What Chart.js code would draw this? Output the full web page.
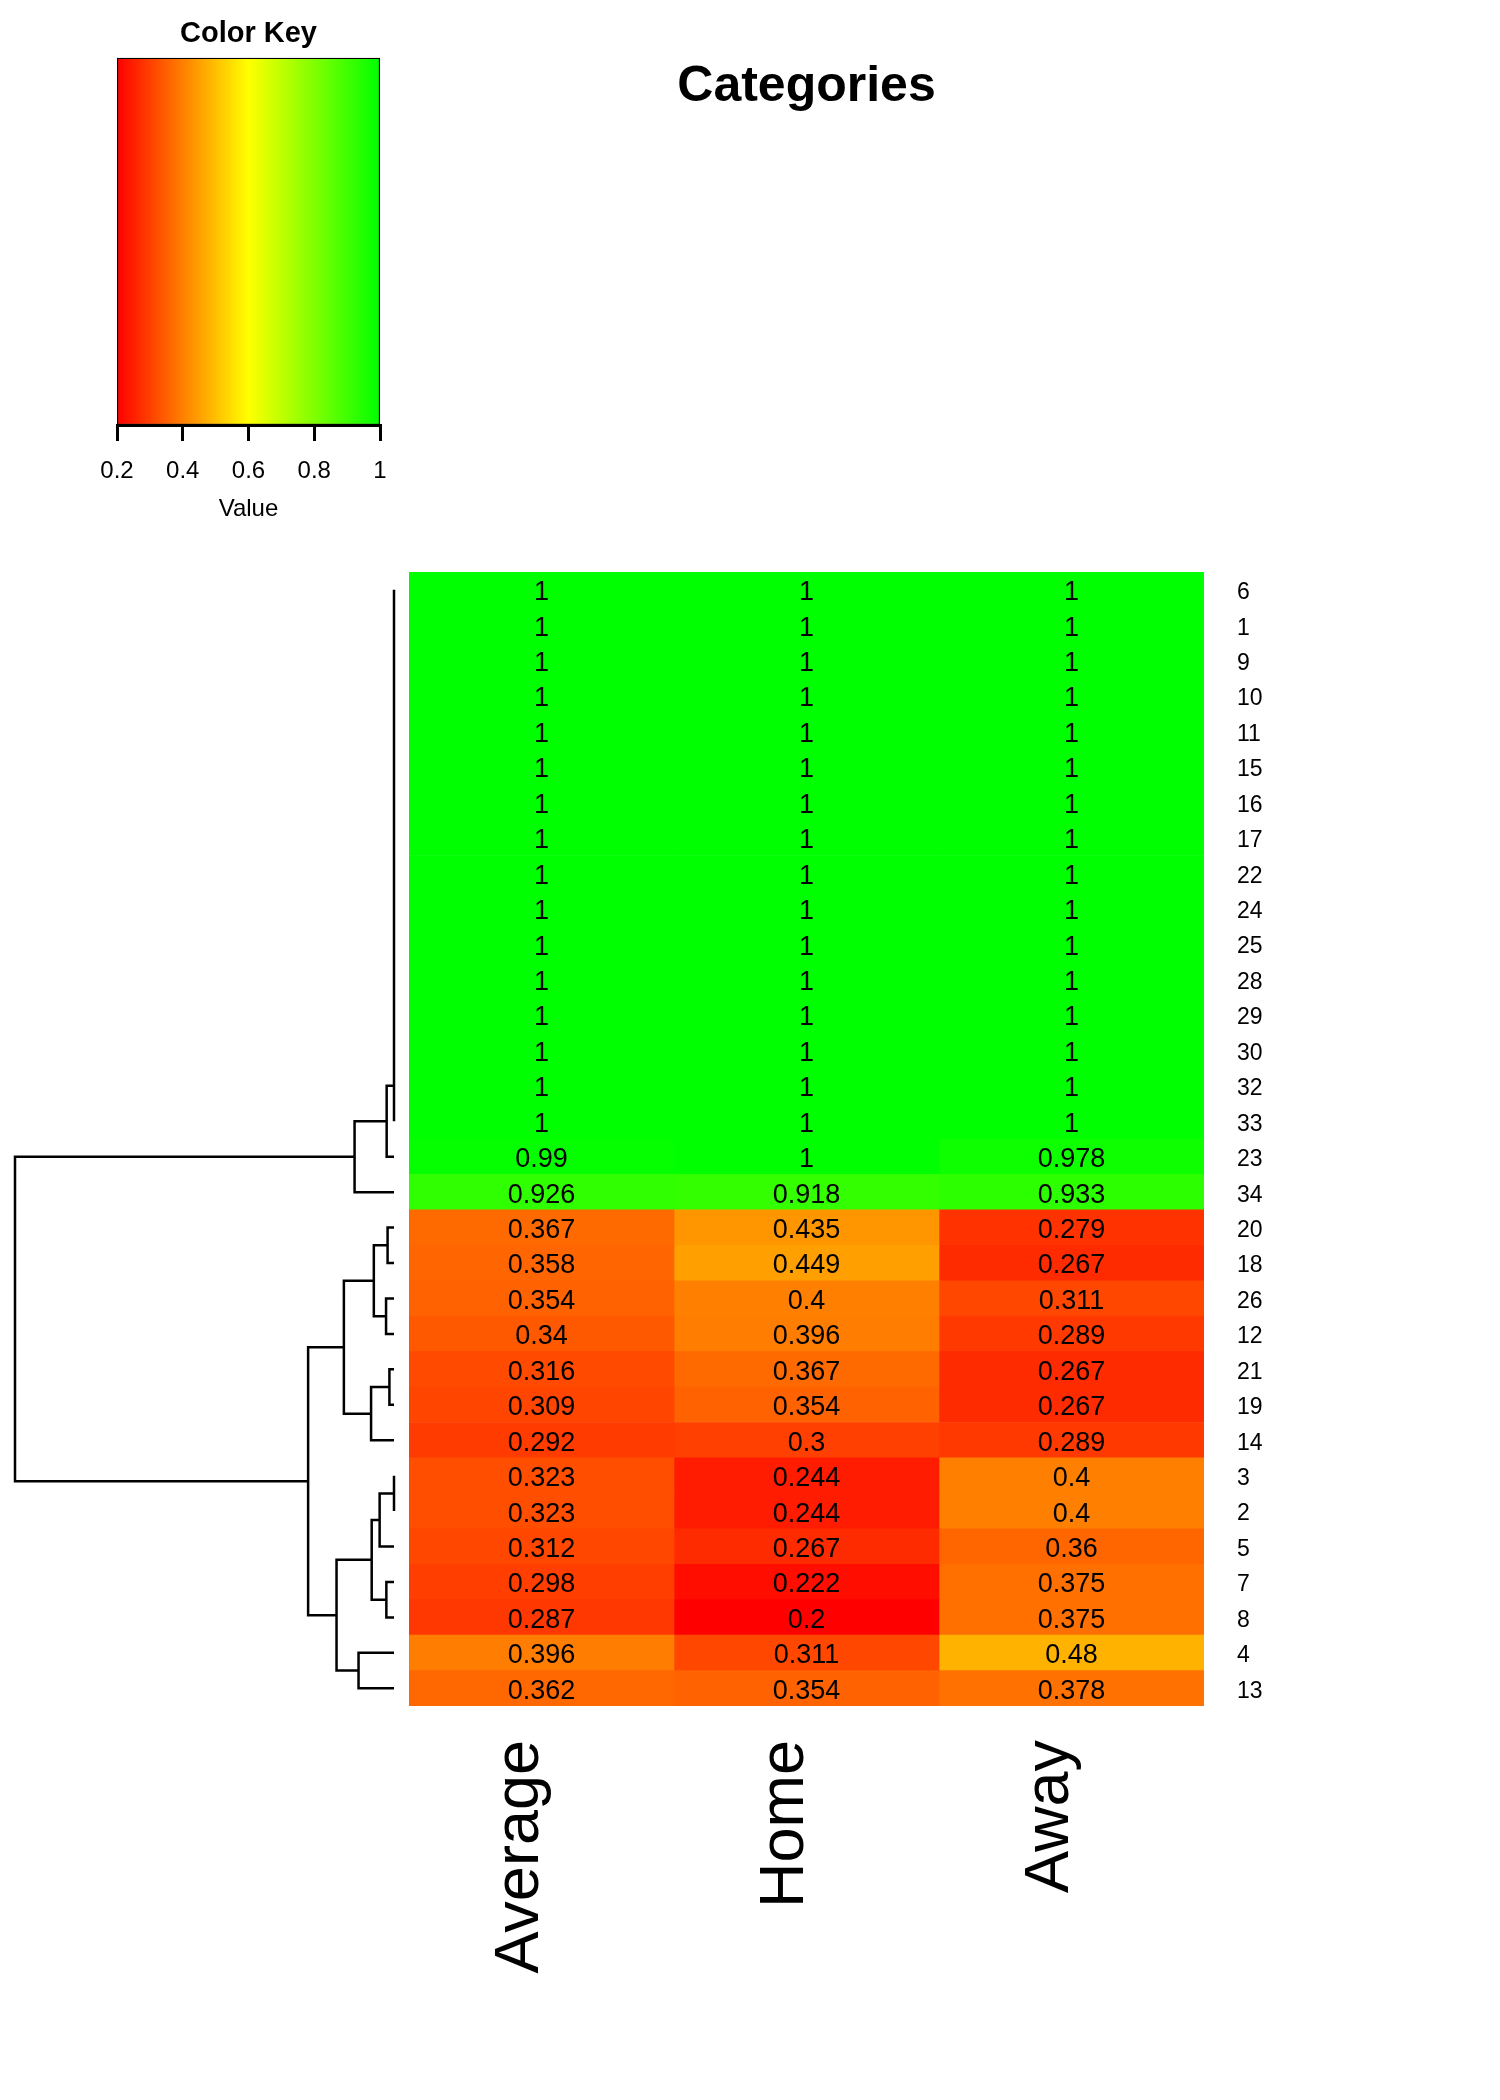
<!DOCTYPE html>
<html>
<head>
<meta charset="utf-8">
<title>Categories</title>
<script src="https://cdn.jsdelivr.net/npm/chart.js@4.4.1/dist/chart.umd.min.js"></script>
<style>
    html, body { margin: 0; padding: 0; background: #fff; }
    body { width: 1500px; height: 2100px; position: relative; overflow: hidden; }
    canvas { position: absolute; }
    #keyChart { left: 0; top: 0; }
    #dendroChart { left: 0; top: 552px; }
    #heatChart { left: 309px; top: 0; }
</style>
</head>
<body>
<canvas id="keyChart" width="497" height="525"></canvas>
<canvas id="dendroChart" width="420" height="1174"></canvas>
<canvas id="heatChart" width="995" height="2100"></canvas>
<script>
// rows from top to bottom, as ordered by the dendrogram
const rowLabels = ["6", "1", "9", "10", "11", "15", "16", "17", "22", "24", "25", "28", "29", "30", "32", "33",
                   "23", "34", "20", "18", "26", "12", "21", "19", "14", "3", "2", "5", "7", "8", "4", "13"];
const colLabels = ["Average", "Home", "Away"];

const average = [1, 1, 1, 1, 1, 1, 1, 1, 1, 1, 1, 1, 1, 1, 1, 1,
                 0.99, 0.926, 0.367, 0.358, 0.354, 0.34, 0.316, 0.309, 0.292, 0.323, 0.323, 0.312, 0.298, 0.287, 0.396, 0.362];
const home = [1, 1, 1, 1, 1, 1, 1, 1, 1, 1, 1, 1, 1, 1, 1, 1,
              1, 0.918, 0.435, 0.449, 0.4, 0.396, 0.367, 0.354, 0.3, 0.244, 0.244, 0.267, 0.222, 0.2, 0.311, 0.354];
const away = [1, 1, 1, 1, 1, 1, 1, 1, 1, 1, 1, 1, 1, 1, 1, 1,
              0.978, 0.933, 0.279, 0.267, 0.311, 0.289, 0.267, 0.267, 0.289, 0.4, 0.4, 0.36, 0.375, 0.375, 0.48, 0.378];

// row dendrogram: a string is a leaf (row label), a number is an earlier merge
const mergeLeft  = ["6", 0, 1, 2, 3, 4, 5, 6, 7, 8, 9, 10, 11, 12, 13, 14, 15,
                    "20", "26", 17, "21", 20, 19, "3", 23, "7", 24, "4", 26, 22, 16];
const mergeRight = ["1", "9", "10", "11", "15", "16", "17", "22", "24", "25", "28", "29", "30", "32", "33", "23", "34",
                    "18", "12", 18, "19", "14", 21, "2", "5", "8", 25, "13", 27, 28, 29];
const mergeHeight = [0, 0, 0, 0, 0, 0, 0, 0, 0, 0, 0, 0, 0, 0, 0, 0.024, 0.129,
                     0.021, 0.026, 0.066, 0.015, 0.075, 0.164, 0, 0.047, 0.025, 0.073, 0.116, 0.188, 0.281, 1.24];

// colour key
const keyRange = [0.2, 1];
const keyTicks = [0.2, 0.4, 0.6, 0.8, 1];
const keyStops = [0.2, 0.6, 1];
const keyColors = [[255, 0, 0], [255, 255, 0], [0, 255, 0]];

Chart.defaults.font.family = '"Liberation Sans", Arial, sans-serif';
Chart.defaults.color = "#000";

function rgb(c) {
    return `rgb(${Math.round(c[0])}, ${Math.round(c[1])}, ${Math.round(c[2])})`;
}

function valueColor(v) {
    for (let i = 1; i < keyStops.length; i++) {
        if (v <= keyStops[i] || i === keyStops.length - 1) {
            const t = Math.min(Math.max((v - keyStops[i - 1]) / (keyStops[i] - keyStops[i - 1]), 0), 1);
            const a = keyColors[i - 1], b = keyColors[i];
            return rgb([0, 1, 2].map(k => a[k] + (b[k] - a[k]) * t));
        }
    }
}

// ---- colour key ----
new Chart(document.getElementById("keyChart"), {
    type: "bar",
    data: {
        labels: ["Value"],
        datasets: [{
            data: [keyRange],
            backgroundColor: (ctx) => {
                const chart = ctx.chart;
                const xs = chart.scales.x;
                if (!chart.chartArea || !xs) return rgb(keyColors[0]);
                const g = chart.ctx.createLinearGradient(xs.getPixelForValue(keyRange[0]), 0, xs.getPixelForValue(keyRange[1]), 0);
                keyStops.forEach((v, i) => g.addColorStop((v - keyRange[0]) / (keyRange[1] - keyRange[0]), rgb(keyColors[i])));
                return g;
            },
            borderColor: "#000",
            borderWidth: 1.5,
            borderSkipped: false,
            barPercentage: 1,
            categoryPercentage: 1
        }]
    },
    options: {
        indexAxis: "y",
        responsive: false,
        animation: false,
        layout: { padding: { left: 117, right: 117, top: 0, bottom: 0 } },
        plugins: {
            legend: { display: false },
            tooltip: { enabled: false },
            title: {
                display: true,
                text: "Color Key",
                color: "#000",
                font: { size: 29, weight: "bold" },
                padding: { top: 17, bottom: 6 }
            }
        },
        scales: {
            x: {
                type: "linear",
                min: keyRange[0],
                max: keyRange[1],
                afterBuildTicks: (s) => { s.ticks = keyTicks.map(value => ({ value })); },
                ticks: { color: "#000", font: { size: 24 }, padding: 16, callback: (v) => String(v) },
                grid: { drawOnChartArea: false, color: "#000", lineWidth: 3, tickLength: 16 },
                border: { display: true, color: "#000", width: 3 },
                title: { display: true, text: "Value", color: "#000", font: { size: 24 }, padding: { top: 0, bottom: 1 } },
                afterFit: (s) => { s.height = 100; }
            },
            y: { display: false }
        }
    }
});

// ---- row dendrogram ----
function dendroPoints() {
    const pos = [], ht = [], pts = [];
    const node = (ref) => typeof ref === "string"
        ? { y: rowLabels.indexOf(ref) + 0.5, h: 0 }
        : { y: pos[ref], h: ht[ref] };
    mergeHeight.forEach((h, i) => {
        const a = node(mergeLeft[i]);
        const b = node(mergeRight[i]);
        pts.push({ x: a.h, y: a.y }, { x: h, y: a.y }, { x: h, y: b.y }, { x: b.h, y: b.y }, { x: NaN, y: NaN });
        pos[i] = (a.y + b.y) / 2;
        ht[i] = h;
    });
    return pts;
}

new Chart(document.getElementById("dendroChart"), {
    type: "scatter",
    data: {
        datasets: [{
            data: dendroPoints(),
            showLine: true,
            spanGaps: false,
            pointRadius: 0,
            borderColor: "#000",
            borderWidth: 2.5,
            borderJoinStyle: "miter",
            clip: false
        }]
    },
    options: {
        responsive: false,
        animation: false,
        layout: { padding: { left: 15, right: 26, top: 20, bottom: 20 } },
        plugins: { legend: { display: false }, tooltip: { enabled: false } },
        scales: {
            x: { type: "linear", reverse: true, min: 0, max: Math.max(...mergeHeight), display: false },
            y: { type: "linear", reverse: true, min: 0, max: rowLabels.length, display: false }
        }
    }
});

// ---- heatmap ----
const cellLabels = {
    id: "cellLabels",
    afterDatasetsDraw(chart) {
        const ctx = chart.ctx;
        ctx.save();
        ctx.font = '27px "Liberation Sans", Arial, sans-serif';
        ctx.fillStyle = "#000";
        ctx.textAlign = "center";
        ctx.textBaseline = "middle";
        chart.data.datasets.forEach((ds, d) => {
            chart.getDatasetMeta(d).data.forEach((bar, i) => {
                const p = bar.getCenterPoint();
                ctx.fillText(String(ds.data[i].v), p.x, p.y + 3);
            });
        });
        ctx.restore();
    }
};

const columns = [average, home, away];

new Chart(document.getElementById("heatChart"), {
    type: "bar",
    data: {
        labels: rowLabels,
        datasets: columns.map((vals, c) => ({
            label: colLabels[c],
            xAxisID: "x",
            yAxisID: "y",
            data: vals.map((v, i) => ({ y: rowLabels[i], x: [c, c + 1], v: v })),
            backgroundColor: (ctx) => ctx.raw ? valueColor(ctx.raw.v) : "#fff",
            borderWidth: 0,
            barPercentage: 1,
            categoryPercentage: 1,
            grouped: false
        }))
    },
    options: {
        indexAxis: "y",
        responsive: false,
        animation: false,
        layout: { padding: 0 },
        plugins: {
            legend: { display: false },
            tooltip: { enabled: false },
            title: {
                display: true,
                text: "Categories",
                color: "#000",
                font: { size: 50, weight: "bold" },
                padding: { top: 57, bottom: 455 }
            }
        },
        scales: {
            x: { type: "linear", min: 0, max: colLabels.length, display: false },
            x2: {
                type: "category",
                labels: colLabels,
                position: "bottom",
                offset: true,
                grid: { display: false, drawTicks: false },
                border: { display: false },
                ticks: { color: "#000", font: { size: 63 }, minRotation: 90, maxRotation: 90, padding: 34, labelOffset: -21, autoSkip: false },
                afterFit: (s) => { s.height = 394; }
            },
            y: {
                type: "category",
                position: "right",
                grid: { display: false, drawTicks: false },
                border: { display: false },
                ticks: { color: "#000", font: { size: 23 }, padding: 33, labelOffset: 3, autoSkip: false },
                afterFit: (s) => { s.width = 100; }
            },
            yL: {
                type: "category",
                position: "left",
                grid: { display: false, drawTicks: false },
                border: { display: false },
                ticks: { display: false },
                afterFit: (s) => { s.width = 100; }
            }
        }
    },
    plugins: [cellLabels]
});
</script>
</body>
</html>
